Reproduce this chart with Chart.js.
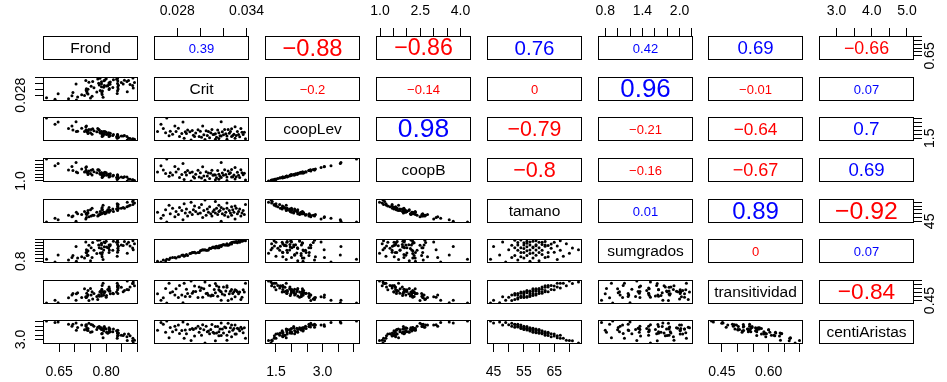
<!DOCTYPE html>
<html>
<head>
<meta charset="utf-8">
<script src="https://cdn.jsdelivr.net/npm/chart.js@4.4.0/dist/chart.umd.min.js"></script>
<style>
html, body { margin: 0; padding: 0; background: #fff; }
#wrap { position: relative; width: 947px; height: 382px; overflow: hidden; }
#wrap canvas { position: absolute; }
</style>
</head>
<body>
<div id="wrap"></div>
<script>
const varNames = ['Frond', 'Crit', 'coopLev', 'coopB', 'tamano', 'sumgrados', 'transitividad', 'centiAristas'];

// one value per network, same order in every array
const frond = [0.610, 0.704, 0.647, 0.735, 0.637, 0.737, 0.745, 0.691, 0.752, 0.773, 0.694, 0.776, 0.680, 0.761, 0.757, 0.738, 0.778, 0.780,
  0.722, 0.785, 0.736, 0.796, 0.709, 0.785, 0.785, 0.739, 0.794, 0.800, 0.742, 0.705, 0.809, 0.792, 0.793, 0.770, 0.808, 0.823,
  0.731, 0.801, 0.781, 0.813, 0.810, 0.836, 0.742, 0.812, 0.750, 0.837, 0.805, 0.788, 0.836, 0.833, 0.786, 0.821, 0.848, 0.755,
  0.839, 0.858, 0.809, 0.854, 0.787, 0.866, 0.837, 0.836, 0.871, 0.790, 0.876, 0.885, 0.838, 0.835, 0.890, 0.867, 0.884, 0.886];
const crit = [0.0271, 0.0318, 0.0285, 0.0330, 0.0266, 0.0302, 0.0324, 0.0278, 0.0310, 0.0335, 0.0289, 0.0321, 0.0268, 0.0305, 0.0327, 0.0293, 0.0315, 0.0338,
  0.0281, 0.0319, 0.0298, 0.0332, 0.0274, 0.0309, 0.0326, 0.0287, 0.0313, 0.0336, 0.0300, 0.0263, 0.0322, 0.0307, 0.0329, 0.0291, 0.0316, 0.0333,
  0.0279, 0.0311, 0.0296, 0.0325, 0.0303, 0.0337, 0.0284, 0.0317, 0.0270, 0.0328, 0.0312, 0.0294, 0.0320, 0.0334, 0.0288, 0.0306, 0.0323, 0.0276,
  0.0314, 0.0331, 0.0299, 0.0318, 0.0282, 0.0327, 0.0308, 0.0295, 0.0330, 0.0273, 0.0316, 0.0339, 0.0301, 0.0286, 0.0323, 0.0292, 0.0313, 0.0304];
const coopLev = [4.09, 3.59, 3.57, 2.95, 3.27, 3.05, 2.62, 3.06, 2.62, 2.74, 2.56, 2.61, 2.74, 2.45, 2.70, 2.47, 2.56, 2.26,
  2.77, 2.32, 2.57, 2.35, 2.40, 2.20, 2.35, 2.31, 2.07, 2.26, 2.39, 2.37, 2.07, 2.37, 2.00, 2.31, 2.19, 1.98,
  2.35, 1.96, 2.17, 2.13, 1.94, 1.98, 2.10, 1.83, 2.20, 1.85, 2.01, 1.87, 1.95, 1.70, 2.10, 1.85, 1.79, 2.00,
  1.64, 1.86, 1.72, 1.77, 1.72, 1.72, 1.56, 1.71, 1.50, 1.83, 1.45, 1.44, 1.62, 1.50, 1.36, 1.26, 1.38, 1.34];
const coopB = [4.26, 3.73, 3.58, 3.00, 3.26, 3.09, 2.49, 3.15, 2.60, 2.67, 2.55, 2.64, 2.61, 2.38, 2.70, 2.32, 2.56, 2.15,
  2.77, 2.17, 2.59, 2.27, 2.22, 2.13, 2.22, 2.27, 1.87, 2.22, 2.22, 2.32, 1.96, 2.18, 1.90, 2.22, 2.00, 1.85,
  2.31, 1.84, 2.00, 2.07, 1.75, 1.91, 1.96, 1.68, 2.09, 1.61, 1.91, 1.62, 1.83, 1.52, 1.89, 1.74, 1.57, 1.89,
  1.46, 1.64, 1.57, 1.51, 1.53, 1.58, 1.37, 1.45, 1.29, 1.69, 1.24, 1.13, 1.45, 1.22, 1.08, 0.98, 1.17, 1.11];
const tamano = [44, 45, 47, 48, 49, 50, 51, 51, 52, 52, 52, 53, 53, 53, 53, 54, 54, 54,
  54, 55, 55, 55, 55, 55, 56, 56, 56, 56, 56, 57, 57, 57, 57, 57, 58, 58,
  58, 58, 58, 59, 59, 59, 59, 59, 60, 60, 60, 60, 61, 61, 61, 61, 62, 62,
  62, 62, 63, 63, 63, 64, 64, 65, 65, 66, 66, 67, 67, 68, 69, 70, 71, 73];
const sumgrados = [0.92, 1.73, 1.20, 2.03, 0.74, 1.53, 1.82, 1.04, 1.65, 2.14, 1.17, 1.84, 0.87, 1.50, 2.00, 1.35, 1.66, 2.16,
  1.08, 1.83, 1.36, 1.97, 1.01, 1.61, 1.95, 1.17, 1.72, 2.08, 1.47, 0.80, 1.83, 1.51, 2.02, 1.29, 1.66, 2.08,
  1.00, 1.70, 1.33, 1.85, 1.51, 2.10, 1.18, 1.79, 0.82, 2.01, 1.66, 1.36, 1.86, 2.01, 1.23, 1.50, 1.83, 1.03,
  1.75, 2.05, 1.35, 1.80, 1.09, 1.90, 1.63, 1.37, 2.01, 0.90, 1.77, 2.11, 1.50, 1.11, 1.91, 1.31, 1.64, 1.53];
const transitividad = [0.417, 0.454, 0.423, 0.497, 0.452, 0.491, 0.450, 0.520, 0.519, 0.464, 0.539, 0.519, 0.484, 0.539, 0.469, 0.543, 0.503, 0.558,
  0.488, 0.532, 0.487, 0.562, 0.547, 0.507, 0.567, 0.502, 0.547, 0.492, 0.577, 0.536, 0.571, 0.516, 0.561, 0.501, 0.585, 0.535,
  0.600, 0.515, 0.565, 0.535, 0.600, 0.585, 0.520, 0.570, 0.604, 0.539, 0.589, 0.564, 0.623, 0.558, 0.593, 0.543, 0.617, 0.562,
  0.637, 0.577, 0.622, 0.562, 0.642, 0.591, 0.641, 0.635, 0.585, 0.670, 0.620, 0.669, 0.609, 0.668, 0.638, 0.699, 0.666, 0.685];
const centiAristas = [5.10, 4.87, 4.98, 4.63, 4.92, 4.66, 4.84, 4.51, 4.68, 4.38, 4.72, 4.41, 4.71, 4.49, 4.65, 4.24, 4.48, 4.33,
  4.63, 4.19, 4.50, 4.28, 4.37, 4.13, 4.34, 4.08, 4.46, 4.18, 4.24, 4.04, 4.32, 3.95, 4.23, 4.13, 3.89, 4.20,
  4.09, 3.83, 4.26, 3.88, 4.10, 3.76, 4.03, 4.19, 3.82, 4.04, 3.70, 4.13, 3.75, 3.98, 3.66, 3.89, 3.48, 3.87,
  3.74, 3.62, 3.82, 3.47, 3.68, 3.32, 3.64, 3.41, 3.62, 3.20, 3.44, 3.15, 3.48, 3.16, 2.92, 2.90, 2.86, 2.60];

// upper triangle, row by row (Frond-Crit, Frond-coopLev, ...)
const corrValues = [0.39, -0.88, -0.86, 0.76, 0.42, 0.69, -0.66,
  -0.20, -0.14, -0.004, 0.96, -0.01, 0.07,
  0.98, -0.79, -0.21, -0.64, 0.70,
  -0.80, -0.16, -0.67, 0.69,
  0.01, 0.89, -0.92,
  -0.003, 0.07,
  -0.84];

const frondTicks = [0.65, 0.70, 0.75, 0.80, 0.85, 0.90];
const critTicks = [0.028, 0.030, 0.032, 0.034];
const coopLevTicks = [1.5, 2.0, 2.5, 3.0, 3.5, 4.0];
const coopBTicks = [1.0, 1.5, 2.0, 2.5, 3.0, 3.5, 4.0];
const tamanoTicks = [45, 50, 55, 60, 65, 70];
const sumgradosTicks = [0.8, 1.0, 1.2, 1.4, 1.6, 1.8, 2.0, 2.2];
const transTicks = [0.45, 0.50, 0.55, 0.60, 0.65, 0.70];
const centiTicks = [3.0, 3.5, 4.0, 4.5, 5.0];

const frondLabels = ['0.65', '0.70', '0.75', '0.80', '0.85', '0.90'];
const critLabels = ['0.028', '0.030', '0.032', '0.034'];
const coopLevLabels = ['1.5', '2.0', '2.5', '3.0', '3.5', '4.0'];
const coopBLabels = ['1.0', '1.5', '2.0', '2.5', '3.0', '3.5', '4.0'];
const tamanoLabels = ['45', '50', '55', '60', '65', '70'];
const sumgradosLabels = ['0.8', '1.0', '1.2', '1.4', '1.6', '1.8', '2.0', '2.2'];
const transLabels = ['0.45', '0.50', '0.55', '0.60', '0.65', '0.70'];
const centiLabels = ['3.0', '3.5', '4.0', '4.5', '5.0'];

const FONT = '"Liberation Sans", Arial, Helvetica, sans-serif';
const series = [frond, crit, coopLev, coopB, tamano, sumgrados, transitividad, centiAristas];
const axisTicks = [frondTicks, critTicks, coopLevTicks, coopBTicks, tamanoTicks, sumgradosTicks, transTicks, centiTicks];
const axisLabels = [frondLabels, critLabels, coopLevLabels, coopBLabels, tamanoLabels, sumgradosLabels, transLabels, centiLabels];

// AX is the room given to an axis; Chart.js clips tick labels to it
const BOX_W = 95, BOX_H = 24, M = 40, AX = 37, TICK = 8;
const boxLeft = j => Math.round(43.3 + j * 110.85);
const boxTop = i => Math.round(36 + i * 40.64);

const measure = document.createElement('canvas').getContext('2d');
function textWidth(s, size) {
    measure.font = size + 'px ' + FONT;
    return measure.measureText(s).width;
}

// same range as R: data range widened by 4% on each side
function limits(values) {
    const lo = Math.min(...values), hi = Math.max(...values);
    const pad = (hi - lo) * 0.04;
    return [lo - pad, hi + pad];
}

// R's axis() skips a label that would run into the previous one
function visibleLabels(k, len) {
    const [lo, hi] = limits(series[k]);
    const gap = textWidth('m', 14);
    let lastEnd = -Infinity;
    return axisLabels[k].map((lab, n) => {
        const p = (axisTicks[k][n] - lo) / (hi - lo) * len;
        const w = textWidth(lab, 14);
        if (p - w / 2 >= lastEnd + gap) {
            lastEnd = p + w / 2;
            return lab;
        }
        return '';
    });
}

function scaleFor(k, position, shown) {
    const [lo, hi] = limits(series[k]);
    const horizontal = position === 'top' || position === 'bottom';
    const cfg = { type: 'linear', position: position, min: lo, max: hi, display: shown };
    if (!shown) return cfg;

    const labels = visibleLabels(k, horizontal ? BOX_W : BOX_H);
    const widest = Math.max(...labels.map(l => l ? textWidth(l, 14) : 0));
    let padding;
    if (position === 'top') padding = 8;
    else if (position === 'bottom') padding = 11.5;
    else if (position === 'left') padding = 13.7 - widest / 2;
    else padding = 8.2 - widest / 2;

    Object.assign(cfg, {
        grid: { drawOnChartArea: false, drawTicks: true, tickLength: TICK, color: '#000', lineWidth: 1 },
        border: { display: false },
        ticks: {
            color: '#000',
            font: { family: FONT, size: 14 },
            padding: padding,
            autoSkip: false,
            minRotation: horizontal ? 0 : 90,
            maxRotation: horizontal ? 0 : 90,
            crossAlign: horizontal ? 'near' : 'center',
            callback: (v, n) => labels[n]
        },
        afterBuildTicks: s => { s.ticks = axisTicks[k].map(v => ({ value: v })); },
        afterFit: s => { if (horizontal) s.height = AX; else s.width = AX; }
    });
    return cfg;
}

const panelPlugin = {
    id: 'panel',
    afterDraw(chart, args, opts) {
        const ctx = chart.ctx;
        const a = chart.chartArea;
        ctx.save();
        ctx.strokeStyle = '#000';
        ctx.lineWidth = 1;
        ctx.strokeRect(a.left + 0.5, a.top + 0.5, a.right - a.left - 1, a.bottom - a.top - 1);
        if (opts.label) {
            ctx.fillStyle = opts.textColor;
            ctx.font = opts.size + 'px ' + FONT;
            ctx.textAlign = 'center';
            ctx.textBaseline = 'middle';
            ctx.fillText(opts.label, (a.left + a.right) / 2, (a.top + a.bottom) / 2 + 1);
        }
        ctx.restore();
    }
};

function corrText(r) {
    const v = Math.round(r * 100) / 100;
    return (v < 0 ? '\u2212' : '') + String(Math.abs(v));
}

const wrap = document.getElementById('wrap');
let corrIndex = 0;

for (let i = 0; i < 8; i++) {
    for (let j = 0; j < 8; j++) {
        const canvas = document.createElement('canvas');
        const w = BOX_W + 2 * M, h = BOX_H + 2 * M;
        canvas.width = w;
        canvas.height = h;
        canvas.style.left = (boxLeft(j) - M) + 'px';
        canvas.style.top = (boxTop(i) - M) + 'px';
        wrap.appendChild(canvas);

        const top = i === 0 && j % 2 === 1;
        const bottom = i === 7 && j % 2 === 0;
        const left = j === 0 && i % 2 === 1;
        const right = j === 7 && i % 2 === 0;

        const datasets = [];
        let panel = {};
        if (i > j) {
            datasets.push({
                data: series[j].map((v, n) => ({ x: v, y: series[i][n] })),
                pointRadius: 1.5,
                pointHoverRadius: 1.5,
                pointBackgroundColor: '#000',
                pointBorderWidth: 0
            });
        } else if (i === j) {
            panel = { label: varNames[i], textColor: '#000', size: 15.5 };
        } else {
            const r = corrValues[corrIndex++];
            panel = {
                label: corrText(r),
                textColor: r < 0 ? '#ff0000' : '#0000ff',
                size: Math.max(13, 27 * Math.abs(r))
            };
        }

        new Chart(canvas, {
            type: 'scatter',
            data: { datasets: datasets },
            options: {
                responsive: false,
                animation: false,
                devicePixelRatio: 1,
                events: [],
                layout: {
                    padding: {
                        top: top ? M - AX : M,
                        bottom: bottom ? M - AX : M,
                        left: left ? M - AX : M,
                        right: right ? M - AX : M
                    }
                },
                scales: {
                    x: scaleFor(j, top ? 'top' : 'bottom', top || bottom),
                    y: scaleFor(i, right ? 'right' : 'left', left || right)
                },
                plugins: {
                    legend: { display: false },
                    tooltip: { enabled: false },
                    panel: panel
                }
            },
            plugins: [panelPlugin]
        });
    }
}
</script>
</body>
</html>
